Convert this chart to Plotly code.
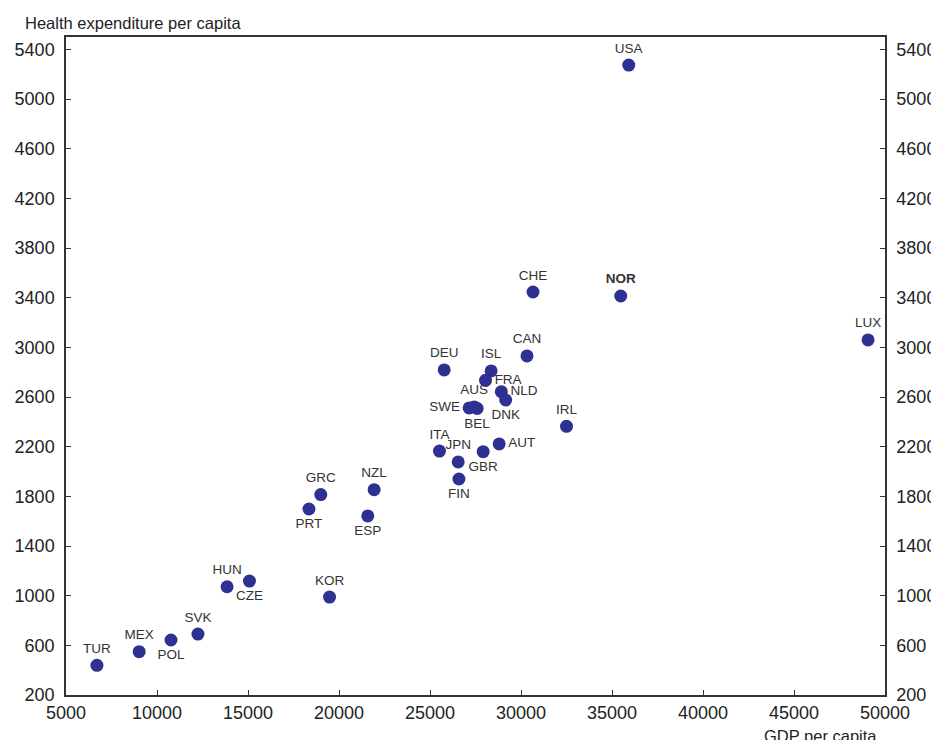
import plotly.graph_objects as go

countries = ["USA", "NOR", "CHE", "LUX", "CAN", "DEU", "ISL", "FRA", "NLD", "DNK",
             "AUS", "SWE", "BEL", "IRL", "AUT", "ITA", "GBR", "JPN", "FIN",
             "GRC", "PRT", "NZL", "ESP", "HUN", "CZE", "KOR", "SVK", "POL", "MEX", "TUR"]
gdp_per_capita = [35920, 35480, 30660, 49070, 30330, 25780, 28360, 28050, 28920, 29160,
                  27430, 27150, 27590, 32500, 28800, 25520, 27920, 26550, 26590,
                  19000, 18350, 21930, 21580, 13850, 15080, 19480, 12250, 10770, 9020, 6700]
health_per_capita = [5274, 3414, 3446, 3060, 2931, 2818, 2810, 2735, 2643, 2576,
                     2520, 2512, 2508, 2364, 2222, 2165, 2160, 2077, 1940,
                     1814, 1698, 1854, 1642, 1072, 1118, 989, 691, 643, 549, 439]

x_ticks = [5000, 10000, 15000, 20000, 25000, 30000, 35000, 40000, 45000, 50000]
y_ticks = [200, 600, 1000, 1400, 1800, 2200, 2600, 3000, 3400, 3800, 4200, 4600, 5000, 5400]

# label placement (style)
label_pos = {
    "USA": "top center", "NOR": "top center", "CHE": "top center", "LUX": "top center",
    "CAN": "top center", "DEU": "top center", "ISL": "top center", "FRA": "middle right",
    "NLD": "middle right", "DNK": "bottom center", "AUS": "top center", "SWE": "middle left",
    "BEL": "bottom center", "IRL": "top center", "AUT": "middle right", "ITA": "top center",
    "GBR": "bottom center", "JPN": "top center", "FIN": "bottom center", "GRC": "top center",
    "PRT": "bottom center", "NZL": "top center", "ESP": "bottom center", "HUN": "top center",
    "CZE": "bottom center", "KOR": "top center", "SVK": "top center", "POL": "bottom center",
    "MEX": "top center", "TUR": "top center",
}

texts = ["<b>%s</b>" % c if c == "NOR" else c for c in countries]
positions = [label_pos[c] for c in countries]

FONT = "Liberation Sans, Arial, sans-serif"
AXC = "#333333"

fig = go.Figure()
fig.add_trace(go.Scatter(
    x=gdp_per_capita, y=health_per_capita, mode="markers+text",
    text=texts, textposition=positions,
    textfont=dict(family=FONT, size=13.5, color="#333333"),
    marker=dict(size=13, color="#2e3192", line=dict(width=0)),
    cliponaxis=False, showlegend=False, hoverinfo="skip",
))
# invisible trace for right axis
fig.add_trace(go.Scatter(x=[None], y=[None], yaxis="y2", showlegend=False))

axis_common = dict(showgrid=False, zeroline=False, showline=True, linecolor=AXC, linewidth=1.5,
                   ticks="inside", ticklen=5, tickcolor=AXC, tickwidth=1, automargin=False,
                   tickfont=dict(family=FONT, size=18, color="#222222"))

fig.update_layout(
    width=939, height=740,
    margin=dict(l=58, r=62, t=29, b=53),
    paper_bgcolor="white", plot_bgcolor="white",
    xaxis=dict(range=[5000, 50000], tickvals=x_ticks, ticktext=[str(v) for v in x_ticks],
               mirror=True, ticklabelstandoff=1, **axis_common),
    yaxis=dict(range=[200, 5500], tickvals=y_ticks, ticktext=[str(v) for v in y_ticks],
               ticklabelstandoff=6, **axis_common),
    yaxis2=dict(range=[200, 5500], tickvals=y_ticks, ticktext=[str(v) for v in y_ticks],
                overlaying="y", side="right", ticklabelstandoff=6, **axis_common),
    annotations=[
        dict(text="Health expenditure per capita", xref="paper", yref="paper",
             x=0, xshift=-43, y=1.0, yshift=14, xanchor="left", yanchor="middle",
             showarrow=False, font=dict(family=FONT, size=16.5, color="#222222")),
        dict(text="GDP per capita", xref="paper", yref="paper",
             x=0.9207, y=0, yshift=-30, xanchor="center", yanchor="top", showarrow=False,
             font=dict(family=FONT, size=16.5, color="#222222")),
    ],
)

fig.write_html("out.html")
